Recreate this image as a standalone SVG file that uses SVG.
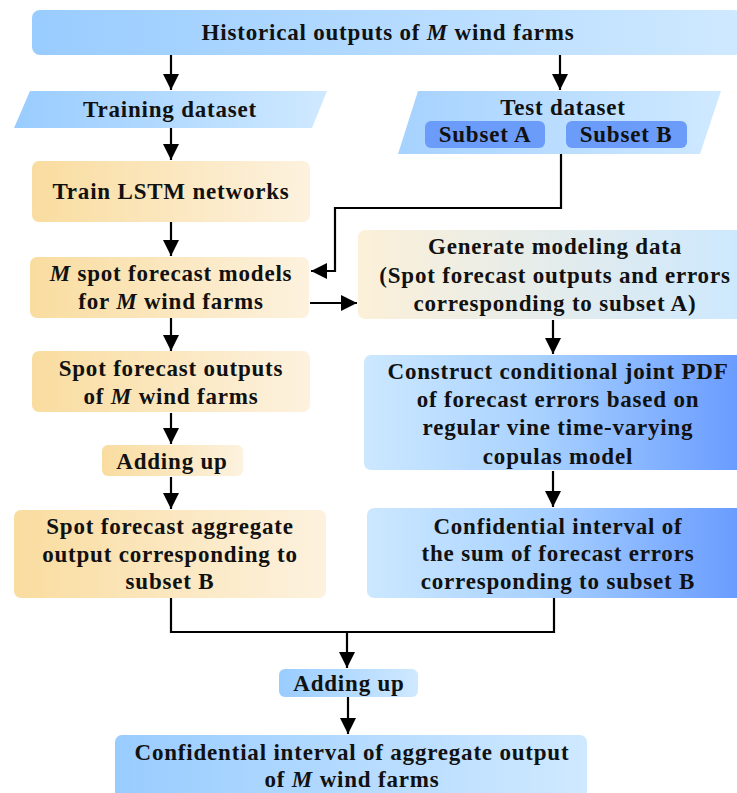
<svg xmlns="http://www.w3.org/2000/svg" width="737" height="793" viewBox="0 0 737 793">
<defs>
<linearGradient id="gBlueL" x1="0" y1="0" x2="1" y2="0"><stop offset="0" stop-color="#99ccff"/><stop offset="1" stop-color="#cfe9ff"/></linearGradient>
<linearGradient id="gBlueD" x1="0" y1="0" x2="1" y2="0"><stop offset="0" stop-color="#cce8ff"/><stop offset="0.45" stop-color="#a9d2ff"/><stop offset="1" stop-color="#6699ff"/></linearGradient>
<linearGradient id="gOrange" x1="0" y1="0" x2="1" y2="0"><stop offset="0" stop-color="#f9dc9f"/><stop offset="1" stop-color="#fdf2df"/></linearGradient>
<linearGradient id="gMix" x1="0" y1="0" x2="1" y2="0"><stop offset="0" stop-color="#fcf0d8"/><stop offset="1" stop-color="#cce8ff"/></linearGradient>
<linearGradient id="gTest" x1="0" y1="0" x2="1" y2="0"><stop offset="0" stop-color="#a6d2ff"/><stop offset="1" stop-color="#cfe9ff"/></linearGradient>
<marker id="arr" markerUnits="userSpaceOnUse" markerWidth="16" markerHeight="16" refX="16" refY="8" orient="auto"><path d="M0,0 L16,8 L0,16 Z" fill="#000"/></marker>
<style>
text{font-family:"Liberation Serif","DejaVu Serif",serif;font-weight:bold;font-size:23px;letter-spacing:0.8px;fill:#111;text-anchor:middle}
.c{fill:none;stroke:#000;stroke-width:2.2}
</style>
</defs>

<g id="connectors">
<line class="c" x1="171" y1="55" x2="171" y2="90" marker-end="url(#arr)"/>
<line class="c" x1="560" y1="55" x2="560" y2="90" marker-end="url(#arr)"/>
<line class="c" x1="171" y1="127" x2="171" y2="160" marker-end="url(#arr)"/>
<line class="c" x1="171" y1="222" x2="171" y2="256" marker-end="url(#arr)"/>
<polyline class="c" points="561,153 561,208 335,208 335,271 311,271" marker-end="url(#arr)"/>
<line class="c" x1="310" y1="303" x2="357" y2="303" marker-end="url(#arr)"/>
<line class="c" x1="171" y1="318" x2="171" y2="351" marker-end="url(#arr)"/>
<line class="c" x1="171" y1="413" x2="171" y2="444" marker-end="url(#arr)"/>
<line class="c" x1="171" y1="477" x2="171" y2="509" marker-end="url(#arr)"/>
<line class="c" x1="553" y1="320" x2="553" y2="354" marker-end="url(#arr)"/>
<line class="c" x1="553" y1="471" x2="553" y2="507" marker-end="url(#arr)"/>
<polyline class="c" points="171,598 171,632 554,632 554,598"/>
<line class="c" x1="347" y1="632" x2="347" y2="668" marker-end="url(#arr)"/>
<line class="c" x1="348" y1="697" x2="348" y2="734" marker-end="url(#arr)"/>
</g>

<g id="historical">
<rect x="32" y="10" width="710" height="45" rx="8" fill="url(#gBlueL)"/>
<text x="388" y="40">Historical outputs of <tspan font-style="italic">M</tspan> wind farms</text>
</g>

<g id="training">
<polygon points="30,91 327,91 312,128 14,128" fill="url(#gBlueL)"/>
<text x="170" y="117">Training dataset</text>
</g>

<g id="test">
<polygon points="418,91 721,91 700,154 398,154" fill="url(#gTest)"/>
<text x="563" y="115">Test dataset</text>
</g>
<g id="subsetA">
<rect x="425" y="121" width="120" height="27" rx="6" fill="#6b9cf9"/>
<text x="485" y="142">Subset A</text>
</g>
<g id="subsetB">
<rect x="566" y="121" width="121" height="27" rx="6" fill="#6b9cf9"/>
<text x="626" y="142">Subset B</text>
</g>

<g id="trainLSTM">
<rect x="32" y="161" width="278" height="61" rx="7" fill="url(#gOrange)"/>
<text x="171" y="199">Train LSTM networks</text>
</g>

<g id="spotModels">
<rect x="30" y="257" width="279" height="61" rx="7" fill="url(#gOrange)"/>
<text x="171" y="281"><tspan font-style="italic">M</tspan> spot forecast models</text>
<text x="171" y="309">for <tspan font-style="italic">M</tspan> wind farms</text>
</g>

<g id="generate">
<rect x="358" y="230" width="390" height="89" rx="7" fill="url(#gMix)"/>
<text x="555" y="254">Generate modeling data</text>
<text x="555" y="283">(Spot forecast outputs and errors</text>
<text x="555" y="311">corresponding to subset A)</text>
</g>

<g id="construct">
<rect x="364" y="355" width="384" height="115" rx="7" fill="url(#gBlueD)"/>
<text x="558" y="379">Construct conditional joint PDF</text>
<text x="558" y="407">of forecast errors based on</text>
<text x="558" y="435">regular vine time-varying</text>
<text x="558" y="464">copulas model</text>
</g>

<g id="spotOutputs">
<rect x="32" y="351" width="278" height="61" rx="7" fill="url(#gOrange)"/>
<text x="171" y="376">Spot forecast outputs</text>
<text x="171" y="404">of <tspan font-style="italic">M</tspan> wind  farms</text>
</g>

<g id="addingLeft">
<rect x="102" y="445" width="141" height="31" rx="6" fill="url(#gOrange)"/>
<text x="172" y="469">Adding up</text>
</g>

<g id="spotAggregate">
<rect x="14" y="510" width="312" height="88" rx="7" fill="url(#gOrange)"/>
<text x="170" y="534">Spot forecast aggregate</text>
<text x="170" y="562">output corresponding to</text>
<text x="170" y="589">subset B</text>
</g>

<g id="confSum">
<rect x="367" y="508" width="381" height="90" rx="7" fill="url(#gBlueD)"/>
<text x="558" y="534">Confidential interval of</text>
<text x="558" y="561">the sum of forecast errors</text>
<text x="558" y="589">corresponding to subset B</text>
</g>

<g id="addingBottom">
<rect x="279" y="669" width="139" height="28" rx="6" fill="url(#gBlueL)"/>
<text x="349" y="691">Adding up</text>
</g>

<g id="final">
<rect x="115" y="735" width="472" height="66" rx="7" fill="url(#gBlueL)"/>
<text x="352" y="760">Confidential interval of aggregate output</text>
<text x="352" y="787">of <tspan font-style="italic">M</tspan> wind farms</text>
</g>
</svg>
